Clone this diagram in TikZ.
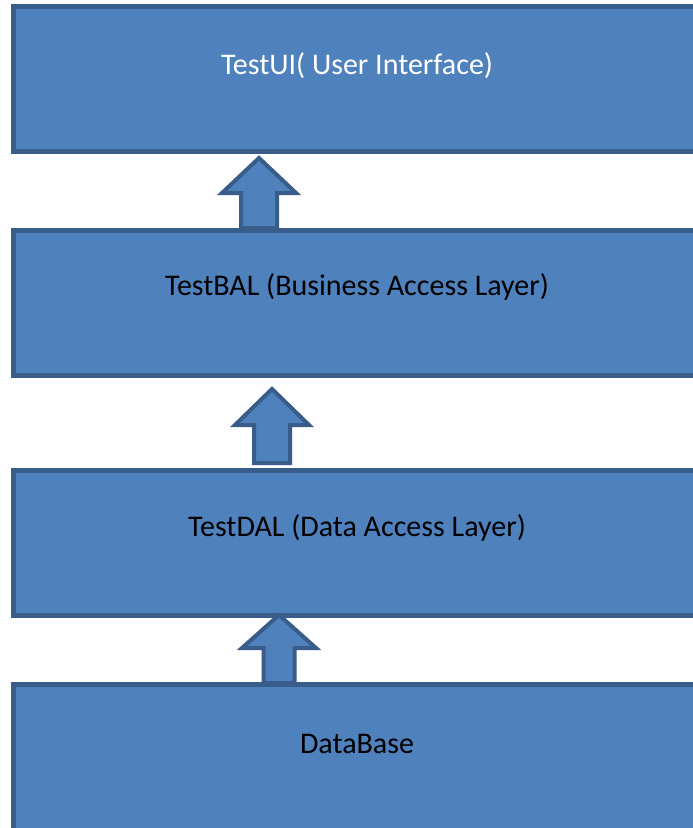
\documentclass[tikz,border=0pt]{standalone}
\usepackage{fontspec}
\setmainfont{Carlito}
\usetikzlibrary{positioning}

\definecolor{layerfill}{HTML}{4F81BD}
\definecolor{layerline}{HTML}{385D8A}

\tikzset{
  layer/.style={draw=layerline,fill=layerfill,line width=5pt,rectangle,
    minimum width=690pt,inner sep=0pt,outer sep=0pt,anchor=north west},
  layertext/.style={font=\fontsize{30}{36}\selectfont,inner sep=0pt},
  blockarrow/.style={draw=layerline,fill=layerfill,line width=4pt,line join=miter}
}

% up arrow: tip x, tip y, head base y, bottom y, shaft half width
\newcommand{\uparrowblock}[5]{%
\draw[blockarrow] (#1,#2) -- (#1+37,#3) -- (#1+#5,#3) -- (#1+#5,#4)
  -- (#1-#5,#4) -- (#1-#5,#3) -- (#1-37,#3) -- cycle;}

\begin{document}
\begin{tikzpicture}[x=1pt,y=-1pt]
\useasboundingbox (0,0) rectangle (693,828);
\fill[white] (0,0) rectangle (693,828);
%layers
\node[layer,minimum height=145pt] (ui) at (13.5,6.5) {};
\node[layer,minimum height=145pt] (bal) at (13.5,230.5) {};
\node[layer,minimum height=145pt] (dal) at (13.5,470.5) {};
\node[layer,minimum height=160pt] (db) at (13.5,684.5) {};
%texts
\node[layertext,text=white] (uitext) at (357,66) {TestUI( User Interface)};
\node[layertext] (baltext) at (357,287) {TestBAL (Business Access Layer)};
\node[layertext] (daltext) at (357,528) {TestDAL (Data Access Layer)};
\node[layertext] (dbtext) at (357,744) {DataBase};
%arrows
\uparrowblock{259}{158}{193}{228}{18}
\uparrowblock{272}{389}{425}{463}{18}
\uparrowblock{279}{615}{648}{683}{15.5}
\end{tikzpicture}
\end{document}
